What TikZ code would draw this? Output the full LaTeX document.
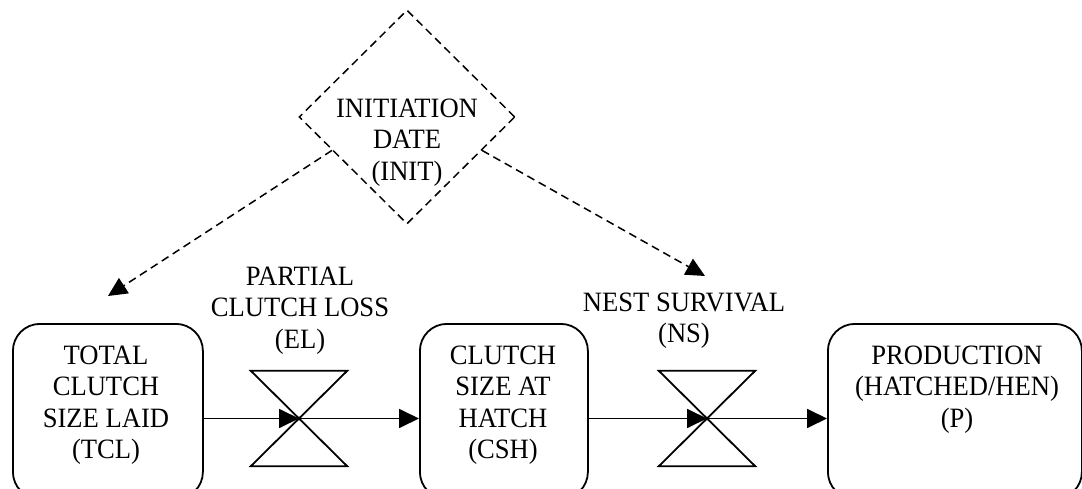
\documentclass[tikz,border=0pt]{standalone}
\usepackage{fontspec}
\setmainfont{Liberation Serif}[FakeStretch=0.95]
\usetikzlibrary{shapes.geometric,arrows.meta}
\begin{document}
\begin{tikzpicture}[x=1pt,y=-1pt,
  txt/.style={inner sep=0pt, align=center, anchor=north,
    font=\fontsize{28}{31.5}\selectfont},
  stock/.style={draw, line width=1.8pt, rounded corners=27pt, anchor=north west,
    minimum height=175pt, inner sep=0pt},
  valve/.style={inner sep=0pt, minimum width=96pt, minimum height=95pt,
    append after command={
      \pgfextra{\draw[line width=1.8pt, line join=miter]
        (\tikzlastnode.north west) -- (\tikzlastnode.north east)
        -- (\tikzlastnode.south west) -- (\tikzlastnode.south east) -- cycle;}}},
  flow/.style={line width=1.8pt, -{Triangle[length=20pt,width=19pt]}},
  influence/.style={line width=1.5pt, dash pattern=on 8pt off 5pt,
    -{Triangle[length=19pt,width=18pt]}}
]
\useasboundingbox (0,0) rectangle (1082,489);
\clip (0,0) rectangle (1082,489);

% stocks
\node[stock, minimum width=190pt] (tcl) at (12,323) {};
\node[stock, minimum width=168pt] (csh) at (419,323) {};
\node[stock, minimum width=254pt] (p) at (827,323) {};

\node[txt] (tcltxt) at (106,345.5) {TOTAL\\CLUTCH\\SIZE LAID\\(TCL)};
\node[txt] (cshtxt) at (503,345.5) {CLUTCH\\SIZE AT\\HATCH\\(CSH)};
\node[txt] (ptxt) at (957,345.5) {PRODUCTION\\(HATCHED/HEN)\\(P)};

% valves
\node[valve] (v1) at (299,418.5) {};
\node[valve] (v2) at (707,418.5) {};

\node[txt] (eltxt) at (300,266.5) {PARTIAL\\CLUTCH LOSS\\(EL)};
\node[txt] (nstxt) at (684,292.5) {NEST SURVIVAL\\(NS)};

% flows
\draw[flow] (tcl.east |- v1) -- (v1.center);
\draw[flow] (v1.center) -- (csh.west |- v1);
\draw[flow] (csh.east |- v2) -- (v2.center);
\draw[flow] (v2.center) -- (p.west |- v2);

% initiation date
\node[draw, diamond, line width=1.5pt, dash pattern=on 8pt off 5pt,
  minimum width=216pt, minimum height=214pt, inner sep=0pt] (init) at (407,117) {};
\node[txt] (inittxt) at (407,98.5) {INITIATION\\DATE\\(INIT)};

\coordinate (tipL) at (108,296);
\coordinate (tipR) at (705,276);
\draw[influence] (init.204) -- (tipL);
\draw[influence] (init.336) -- (tipR);
\end{tikzpicture}
\end{document}
